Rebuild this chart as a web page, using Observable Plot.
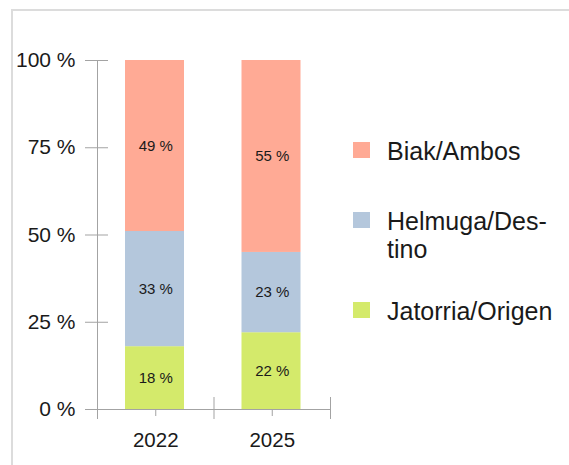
<!DOCTYPE html>
<html>
<head>
<meta charset="utf-8">
<script src="https://cdn.jsdelivr.net/npm/d3@7"></script>
<script src="https://cdn.jsdelivr.net/npm/@observablehq/plot@0.6"></script>
<style>
  html, body { margin: 0; padding: 0; background: #fff; }
  #wrap { position: relative; width: 569px; height: 465px; overflow: hidden; font-family: "Liberation Sans", Arial, sans-serif; }
  #border { position: absolute; left: 11px; top: 9px; right: -10px; bottom: -10px; border-left: 2px solid #dcdcdc; border-top: 2px solid #dcdcdc; }
  #chart { position: absolute; left: 0; top: 0; }
  .leg { position: absolute; left: 353px; display: flex; align-items: flex-start; font-size: 25px; line-height: 28px; color: #1a1a1a; }
  .sw { width: 17px; height: 16px; margin-top: 5px; margin-right: 17px; flex: none; }
</style>
</head>
<body>
<div id="wrap">
  <div id="border"></div>
  <div id="chart"></div>
  <div id="legend"></div>
</div>
<script>
const years = ["2022", "2025"];
const series = ["Jatorria/Origen", "Helmuga/Destino", "Biak/Ambos"];
const origen = [18, 22];
const destino = [33, 23];
const ambos = [49, 55];
const colors = ["#d4ea6b", "#b4c7dc", "#ffaa95"];
const yTicks = [0, 25, 50, 75, 100];
const legendLabels = ["Biak/Ambos", "Helmuga/Des-\ntino", "Jatorria/Origen"];

const valuesBySeries = [origen, destino, ambos];
const table = [];
years.forEach((yr, i) => {
  let acc = 0;
  series.forEach((s, k) => {
    const v = valuesBySeries[k][i];
    table.push({year: yr, i, series: s, value: v, y1: acc, y2: acc + v});
    acc += v;
  });
});

const gray = "#a3a3a3";
const ink = "#1a1a1a";

const chart = Plot.plot({
  width: 569,
  height: 465,
  marginLeft: 97,
  marginRight: 239,
  marginTop: 60,
  marginBottom: 56,
  style: {fontFamily: "'Liberation Sans', Arial, sans-serif", background: "transparent", color: ink},
  x: {type: "linear", domain: [0, years.length], axis: null},
  y: {domain: [0, 100], axis: null},
  color: {domain: series, range: colors},
  marks: [
    Plot.rect(table, {x1: d => d.i, x2: d => d.i + 1, y1: "y1", y2: "y2", fill: "series", insetLeft: 28, insetRight: 29.5}),
    Plot.text(table, {x: d => d.i + 0.5, y: d => (d.y1 + d.y2) / 2, text: d => d.value + " %", fontSize: 15, fill: ink}),
    Plot.frame({anchor: "left", stroke: gray}),
    Plot.frame({anchor: "bottom", stroke: gray}),
    Plot.axisY(yTicks, {tickSize: 23, dx: 11, tickPadding: 10, tickFormat: d => d + " %", fontSize: 21, stroke: gray, fill: ink, label: null}),
    Plot.axisX(years.map((d, i) => i + 0.5), {tickSize: 7, tickPadding: 16, tickFormat: d => years[Math.floor(d)], fontSize: 20.5, stroke: gray, fill: ink, label: null}),
    Plot.ruleX(d3.range(years.length + 1), {x: d => d, y1: 0, y2: 0, insetTop: -12, insetBottom: -10, stroke: gray})
  ]
});
document.getElementById("chart").appendChild(chart);

const tops = [137, 207, 297];
const legColors = [colors[2], colors[1], colors[0]];
const leg = document.getElementById("legend");
legendLabels.forEach((lab, k) => {
  const div = document.createElement("div");
  div.className = "leg";
  div.style.top = tops[k] + "px";
  const sw = document.createElement("div");
  sw.className = "sw";
  sw.style.background = legColors[k];
  const tx = document.createElement("div");
  tx.style.whiteSpace = "pre";
  tx.textContent = lab;
  div.appendChild(sw);
  div.appendChild(tx);
  leg.appendChild(div);
});
</script>
</body>
</html>
